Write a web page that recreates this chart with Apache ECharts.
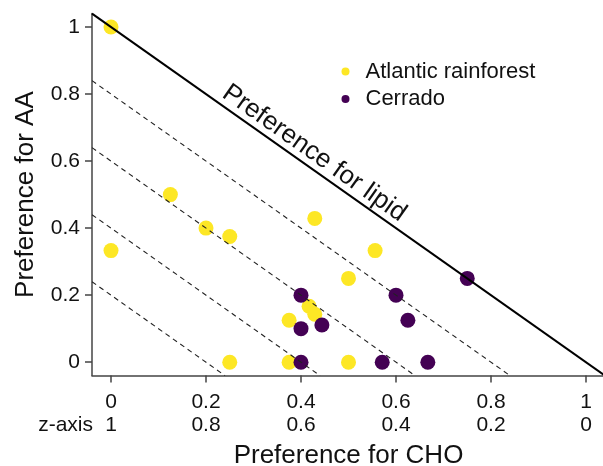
<!DOCTYPE html>
<html>
<head>
<meta charset="utf-8">
<script src="https://cdn.jsdelivr.net/npm/echarts@6/dist/echarts.min.js"></script>
<style>
  html, body { margin: 0; padding: 0; background: #fff; }
  #chart { width: 603px; height: 466px; }
</style>
</head>
<body>
<div id="chart"></div>
<script>
// preferences
const atlanticCho = [0, 0.125, 0.2, 0.25, 0, 0.429, 0.556, 0.5, 0.417, 0.429, 0.375, 0.25, 0.375, 0.5];
const atlanticAa  = [1, 0.5, 0.4, 0.375, 0.333, 0.429, 0.333, 0.25, 0.167, 0.143, 0.125, 0, 0, 0];
const cerradoCho  = [0.4, 0.4, 0.444, 0.4, 0.571, 0.667, 0.6, 0.625, 0.75];
const cerradoAa   = [0.2, 0.1, 0.111, 0, 0, 0, 0.2, 0.125, 0.25];
// dashed lines: constant lipid share levels
const isoLevels = [0.8, 0.6, 0.4, 0.2];
const tickValues = [0, 0.2, 0.4, 0.6, 0.8, 1];
const axisMin = -0.04, axisMax = 1.04;

const font = "'Liberation Sans', Arial, sans-serif";
const axisColor = '#444';
const fmt = v => String(Math.round(v * 10) / 10);
const pairs = (xs, ys) => xs.map((x, i) => [x, ys[i]]);

const lineSeries = [{
  type: 'line',
  data: [[axisMin, 1 - axisMin], [axisMax, 1 - axisMax]],
  showSymbol: false,
  silent: true,
  z: 5,
  lineStyle: { color: '#000', width: 2 }
}].concat(isoLevels.map(c => ({
  type: 'line',
  data: [[axisMin, c - axisMin], [c - axisMin, axisMin]],
  showSymbol: false,
  silent: true,
  z: 5,
  lineStyle: { color: '#222', width: 1.1, type: [5, 4] }
})));

const myChart = echarts.init(document.getElementById('chart'));
const option = {
  animation: false,
  textStyle: { fontFamily: font },
  grid: { left: 92, top: 13.6, width: 513, height: 362, outerBoundsMode: 'none' },
  legend: {
    left: 336.5, top: 55.5,
    orient: 'vertical',
    itemWidth: 8, itemHeight: 8, itemGap: 5.6,
    icon: 'circle',
    data: ['Atlantic rainforest', 'Cerrado'],
    textStyle: { fontSize: 22, lineHeight: 22, color: '#111', fontFamily: font, padding: [0, 0, 0, 11] }
  },
  xAxis: [{
    type: 'value',
    min: axisMin, max: axisMax,
    splitLine: { show: false },
    axisLine: { onZero: false, lineStyle: { color: axisColor, width: 1.5 } },
    axisTick: { customValues: tickValues, length: 7, lineStyle: { color: axisColor, width: 1.5 } },
    axisLabel: { customValues: tickValues, formatter: fmt, margin: 16, fontSize: 21, color: '#111', fontFamily: font },
    name: 'Preference for CHO',
    nameLocation: 'middle',
    nameGap: 67,
    nameTextStyle: { fontSize: 26, color: '#111', fontFamily: font }
  }, {
    // second row of labels: z = 1 - x
    type: 'value',
    min: axisMin, max: axisMax,
    position: 'bottom',
    offset: 50,
    splitLine: { show: false },
    axisLine: { show: false },
    axisTick: { show: false },
    axisLabel: { customValues: tickValues, formatter: v => fmt(1 - v), margin: -10.5, fontSize: 21, color: '#111', fontFamily: font }
  }],
  yAxis: {
    type: 'value',
    min: axisMin, max: axisMax,
    splitLine: { show: false },
    axisLine: { show: true, onZero: false, lineStyle: { color: axisColor, width: 1.5 } },
    axisTick: { show: true, customValues: tickValues, length: 7, lineStyle: { color: axisColor, width: 1.5 } },
    axisLabel: { customValues: tickValues, formatter: fmt, margin: 12, fontSize: 21, color: '#111', fontFamily: font },
    name: 'Preference for AA',
    nameLocation: 'middle',
    nameGap: 53,
    nameTextStyle: { fontSize: 26, color: '#111', fontFamily: font }
  },
  series: [{
    name: 'Atlantic rainforest',
    type: 'scatter',
    data: pairs(atlanticCho, atlanticAa),
    symbolSize: 15,
    itemStyle: { color: '#FDE725', opacity: 1 }
  }, {
    name: 'Cerrado',
    type: 'scatter',
    data: pairs(cerradoCho, cerradoAa),
    symbolSize: 15,
    itemStyle: { color: '#440154', opacity: 1 }
  }].concat(lineSeries)
};
myChart.setOption(option);

// label along the solid line, rotated to its on-screen slope
const a = myChart.convertToPixel({ gridIndex: 0 }, [0.411, 0.589]);
const p0 = myChart.convertToPixel({ gridIndex: 0 }, [0, 1]);
const p1 = myChart.convertToPixel({ gridIndex: 0 }, [1, 0]);
const corner = myChart.convertToPixel({ gridIndex: 0 }, [axisMin, axisMin]);
const angle = Math.atan2(p1[1] - p0[1], p1[0] - p0[0]);
myChart.setOption({
  graphic: [{
    type: 'text',
    x: a[0], y: a[1],
    rotation: -angle,
    z: 10,
    style: {
      text: 'Preference for lipid',
      x: 0, y: -1,
      align: 'center',
      verticalAlign: 'bottom',
      fontSize: 26,
      fontFamily: font,
      fill: '#111'
    }
  }, {
    type: 'text',
    x: corner[0] + 1, y: corner[1] + 50,
    style: {
      text: 'z-axis',
      align: 'right',
      verticalAlign: 'middle',
      fontSize: 21,
      fontFamily: font,
      fill: '#111'
    }
  }]
});

window.addEventListener('resize', () => {
  myChart.resize();
});
</script>
</body>
</html>
